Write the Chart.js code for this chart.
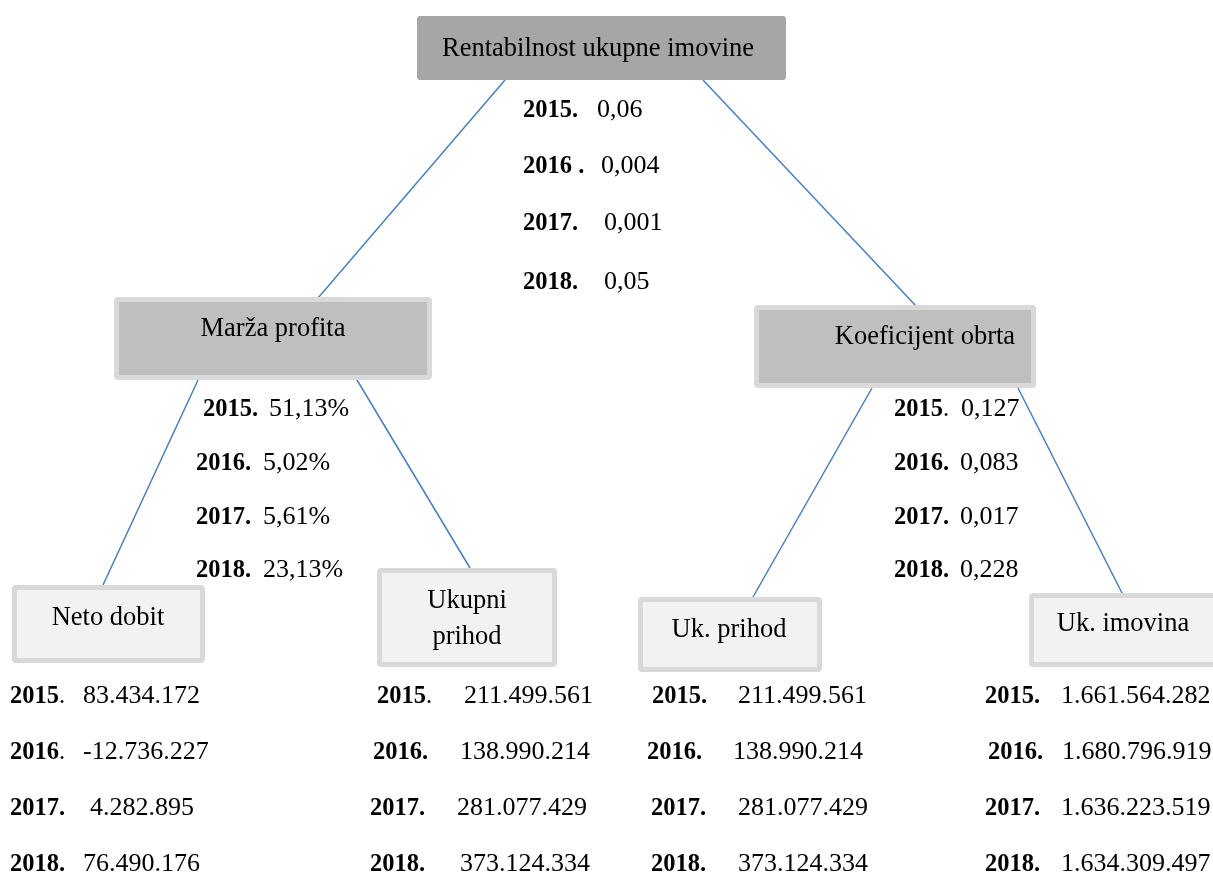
<!DOCTYPE html>
<html>
<head>
<meta charset="utf-8">
<title>Rentabilnost ukupne imovine</title>
<script src="https://cdn.jsdelivr.net/npm/chart.js"></script>
<style>
  body { margin: 0; background: #fff; }
  #wrap { width: 1213px; height: 874px; }
</style>
</head>
<body>
<div id="wrap"><canvas id="tree" width="1213" height="874"></canvas></div>
<script>
// --- data ---
const years = ['2015', '2016', '2017', '2018'];
const nodeNames = ['Rentabilnost ukupne imovine', 'Marža profita', 'Koeficijent obrta',
                   'Neto dobit', 'Ukupni prihod', 'Uk. prihod', 'Uk. imovina'];
const rentabilnost = ['0,06', '0,004', '0,001', '0,05'];
const marzaProfita = ['51,13%', '5,02%', '5,61%', '23,13%'];
const koeficijentObrta = ['0,127', '0,083', '0,017', '0,228'];
const netoDobit = ['83.434.172', '-12.736.227', '4.282.895', '76.490.176'];
const ukupniPrihod = ['211.499.561', '138.990.214', '281.077.429', '373.124.334'];
const ukImovina = ['1.661.564.282', '1.680.796.919', '1.636.223.519', '1.634.309.497'];
// parent -> child (indexes into nodeNames)
const links = [[0, 1], [0, 2], [1, 3], [1, 4], [2, 5], [2, 6]];

// --- layout (page coordinates) ---
const SERIF = '"Liberation Serif", "Times New Roman", serif';
const LABEL_SIZE = 26.5;
const NUM_SIZE = 26;
const YEAR_SIZE = 24.5;
const boxes = [
  { x0: 417, y0: 16, x1: 786, y1: 80, fill: '#a6a6a6', edge: null, rows: [49], cx: 598 },
  { x0: 114, y0: 297, x1: 432, y1: 380, fill: '#bfbfbf', edge: '#d9d9d9', rows: [329], cx: 273 },
  { x0: 754, y0: 305, x1: 1036, y1: 388, fill: '#bfbfbf', edge: '#d9d9d9', rows: [337], cx: 925 },
  { x0: 12, y0: 585, x1: 205, y1: 663, fill: '#f2f2f2', edge: '#d9d9d9', rows: [618], cx: 108 },
  { x0: 377, y0: 568, x1: 557, y1: 667, fill: '#f2f2f2', edge: '#d9d9d9', rows: [601, 637], cx: 467 },
  { x0: 638, y0: 597, x1: 822, y1: 672, fill: '#f2f2f2', edge: '#d9d9d9', rows: [630], cx: 729 },
  { x0: 1029, y0: 593, x1: 1220, y1: 667, fill: '#f2f2f2', edge: '#d9d9d9', rows: [624], cx: 1123 }
];
// start/end of each connector, same order as links
const anchors = [[505, 80, 318, 298], [703, 80, 917, 307], [198, 380, 103, 585],
                 [357, 380, 470, 568], [872, 388, 753, 597], [1018, 388, 1122, 593]];
const midRows = [407, 461, 515, 568];
const lowRows = [694, 750, 806, 862];
const blocks = [
  { values: rentabilnost, yearX: [523, 523, 523, 523], valueX: [597, 601, 604, 604],
    rowY: [108, 164, 221, 280], sep: ['.', ' .', '.', '.'], plainSep: [0, 0, 0, 0] },
  { values: marzaProfita, yearX: [203, 196, 196, 196], valueX: [269, 263, 263, 263],
    rowY: midRows, sep: ['.', '.', '.', '.'], plainSep: [0, 0, 0, 0] },
  { values: koeficijentObrta, yearX: [894, 894, 894, 894], valueX: [961, 960, 960, 960],
    rowY: midRows, sep: ['.', '.', '.', '.'], plainSep: [1, 0, 0, 0] },
  { values: netoDobit, yearX: [10, 10, 10, 10], valueX: [83, 83, 90, 83],
    rowY: lowRows, sep: ['.', '.', '.', '.'], plainSep: [1, 1, 0, 0] },
  { values: ukupniPrihod, yearX: [377, 373, 370, 370], valueX: [464, 460, 457, 460],
    rowY: lowRows, sep: ['.', '.', '.', '.'], plainSep: [1, 0, 0, 0] },
  { values: ukupniPrihod, yearX: [652, 647, 651, 651], valueX: [738, 733, 738, 738],
    rowY: lowRows, sep: ['.', '.', '.', '.'], plainSep: [0, 0, 0, 0] },
  { values: ukImovina, yearX: [985, 988, 985, 985], valueX: [1061, 1062, 1061, 1061],
    rowY: lowRows, sep: ['.', '.', '.', '.'], plainSep: [0, 0, 0, 0] }
];

function roundRect(ctx, x, y, w, h, r) {
  ctx.beginPath();
  ctx.moveTo(x + r, y);
  ctx.arcTo(x + w, y, x + w, y + h, r);
  ctx.arcTo(x + w, y + h, x, y + h, r);
  ctx.arcTo(x, y + h, x, y, r);
  ctx.arcTo(x, y, x + w, y, r);
  ctx.closePath();
}

const treePlugin = {
  id: 'treeBoxes',
  afterDatasetsDraw(chart) {
    const ctx = chart.ctx;
    const sx = v => chart.scales.x.getPixelForValue(v);
    const sy = v => chart.scales.y.getPixelForValue(v);
    ctx.save();
    // boxes
    boxes.forEach((b, i) => {
      const x = sx(b.x0), y = sy(b.y0), w = sx(b.x1) - x, h = sy(b.y1) - y;
      if (b.edge) {
        ctx.fillStyle = b.edge;
        roundRect(ctx, x, y, w, h, 4);
        ctx.fill();
        ctx.fillStyle = b.fill;
        ctx.fillRect(x + 5, y + 5, w - 10, h - 10);
      } else {
        ctx.fillStyle = b.fill;
        roundRect(ctx, x, y, w, h, 3);
        ctx.fill();
      }
      const parts = b.rows.length > 1 ? nodeNames[i].split(' ') : [nodeNames[i]];
      ctx.fillStyle = '#000';
      ctx.font = LABEL_SIZE + 'px ' + SERIF;
      ctx.textAlign = 'center';
      ctx.textBaseline = 'middle';
      parts.forEach((t, k) => ctx.fillText(t, sx(b.cx), sy(b.rows[k])));
    });
    // year / value rows
    ctx.textAlign = 'left';
    ctx.textBaseline = 'alphabetic';
    blocks.forEach(bl => {
      years.forEach((yr, k) => {
        const base = sy(bl.rowY[k]) + NUM_SIZE * 0.33;
        let x = sx(bl.yearX[k]);
        ctx.font = 'bold ' + YEAR_SIZE + 'px ' + SERIF;
        ctx.fillText(yr, x, base);
        x += ctx.measureText(yr).width;
        ctx.font = (bl.plainSep[k] ? '' : 'bold ') + YEAR_SIZE + 'px ' + SERIF;
        ctx.fillText(bl.sep[k], x, base);
        ctx.font = NUM_SIZE + 'px ' + SERIF;
        ctx.fillText(bl.values[k], sx(bl.valueX[k]), base);
      });
    });
    ctx.restore();
  }
};

const connectorSets = links.map((ln, i) => ({
  label: nodeNames[ln[0]] + ' - ' + nodeNames[ln[1]],
  data: [{ x: anchors[i][0], y: anchors[i][1] }, { x: anchors[i][2], y: anchors[i][3] }],
  showLine: true,
  borderColor: '#4a7ebb',
  borderWidth: 1.5,
  pointRadius: 0,
  fill: false
}));

new Chart(document.getElementById('tree').getContext('2d'), {
  type: 'scatter',
  data: { datasets: connectorSets },
  options: {
    responsive: false,
    animation: false,
    layout: { padding: 0 },
    plugins: { legend: { display: false }, tooltip: { enabled: false } },
    scales: {
      x: { type: 'linear', min: 0, max: 1213, display: false },
      y: { type: 'linear', min: 0, max: 874, reverse: true, display: false }
    }
  },
  plugins: [treePlugin]
});
</script>
</body>
</html>
